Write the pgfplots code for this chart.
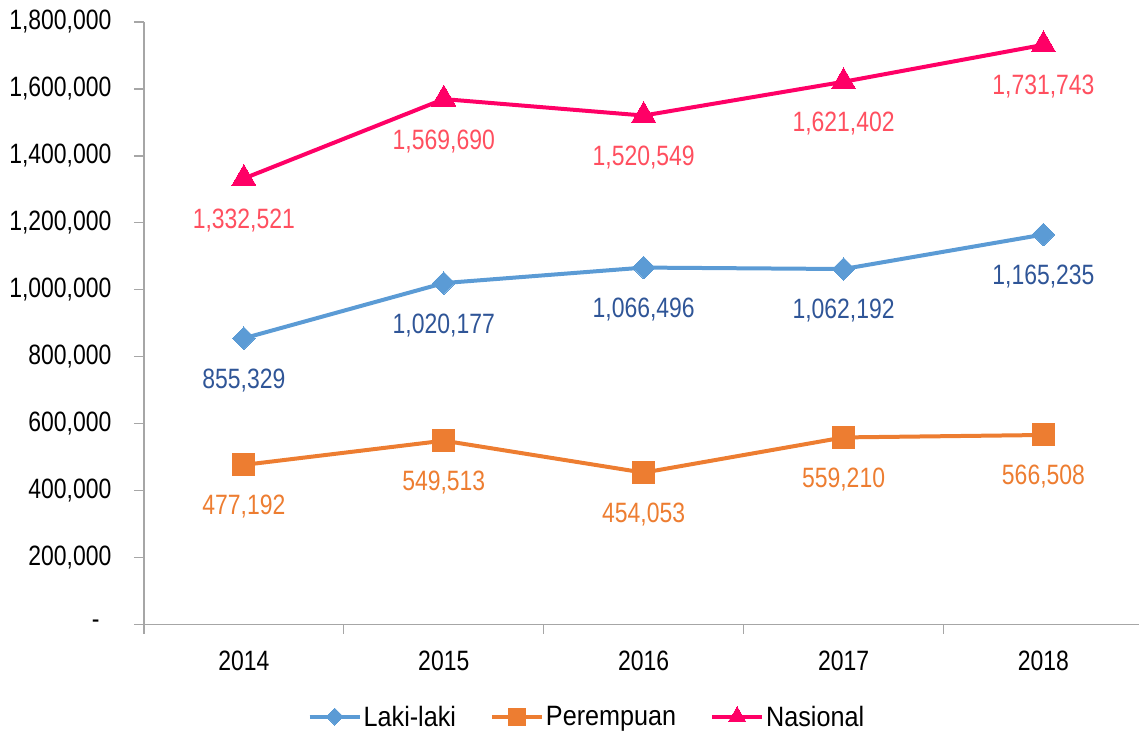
\documentclass[border=0pt]{standalone}
\usepackage{fontspec}
\setmainfont{Liberation Sans}[FakeStretch=0.82]
\newfontfamily\legfont{Liberation Sans}[FakeStretch=0.9]
\usepackage{pgfplots}
\pgfplotsset{compat=1.18}
\definecolor{lakiline}{HTML}{5B9BD5}
\definecolor{lakitext}{HTML}{2F5597}
\definecolor{perline}{HTML}{ED7D31}
\definecolor{nasline}{HTML}{FF0066}
\definecolor{nastext}{HTML}{FF4F5F}
\definecolor{axgray}{HTML}{A6A6A6}
\pgfplotsset{
  leglaki/.style={legend image code/.code={\draw[mark repeat=2,mark phase=2,##1,mark size=6pt] plot coordinates {(0pt,0pt)(25pt,0pt)(50pt,0pt)};}},
  legper/.style={legend image code/.code={\draw[mark repeat=2,mark phase=2,##1,mark size=8.5pt] plot coordinates {(0pt,0pt)(25pt,0pt)(50pt,0pt)};}},
  legnas/.style={legend image code/.code={\draw[mark repeat=2,mark phase=2,##1,mark size=10pt] plot coordinates {(0pt,0pt)(25pt,0pt)(50pt,0pt)};}},
}
\begin{document}
\begin{tikzpicture}
\begin{axis}[
  scale only axis, width=996pt, height=603pt,
  xmin=-0.5, xmax=4.48, ymin=0, ymax=1800000,
  axis x line*=bottom, axis y line*=left,
  axis line style={draw=axgray, line width=1.2pt, -},
  xtick={0,1,2,3,4}, xticklabels={2014,2015,2016,2017,2018},
  major x tick style={draw=none},
  minor xtick={-0.5,0.5,1.5,2.5,3.5},
  minor x tick style={draw=axgray, line width=1.2pt},
  minor tick length=9pt,
  ytick={0,200000,400000,600000,800000,1000000,1200000,1400000,1600000,1800000},
  yticklabels={-\rule{12pt}{0pt},{200,000},{400,000},{600,000},{800,000},{1,000,000},{1,200,000},{1,400,000},{1,600,000},{1,800,000}},
  major y tick style={draw=axgray, line width=1.2pt},
  major tick length=10pt,
  tick align=outside,
  scaled y ticks=false,
  ticklabel style={font=\fontsize{28}{32}\selectfont},
  yticklabel style={xshift=-19pt},
  xticklabel style={yshift=-13pt},
  clip=false,
  nodes near coords,
  point meta=y,
  /pgf/number format/.cd, fixed, precision=0, 1000 sep={,}, assume math mode=true,
  /pgfplots/.cd,
  every node near coord/.append style={anchor=center, yshift=-42pt, font=\fontsize{28}{32}\selectfont},
  legend style={at={(0.445,-0.1526)}, anchor=center, draw=none, legend columns=3,
    font=\legfont\fontsize{28}{32}\selectfont,
    /tikz/every even column/.append style={column sep=32pt}},
  legend cell align=left,
]
\addplot[color=lakiline, line width=4pt, mark=square*, mark size=8pt, mark options={rotate=45, line width=0pt},
  nodes near coords style={text=lakitext}, leglaki]
  coordinates {(0,855329) (1,1020177) (2,1066496) (3,1062192) (4,1165235)};
\addlegendentry{Laki-laki}
\addplot[color=perline, line width=4pt, mark=square*, mark size=11pt, mark options={line width=0pt},
  nodes near coords style={text=perline}, legper]
  coordinates {(0,477192) (1,549513) (2,454053) (3,559210) (4,566508)};
\addlegendentry{Perempuan}
\addplot[color=nasline, line width=4pt, mark=triangle*, mark size=14pt, mark options={line width=0pt},
  nodes near coords style={text=nastext}, legnas]
  coordinates {(0,1332521) (1,1569690) (2,1520549) (3,1621402) (4,1731743)};
\addlegendentry{Nasional}
\end{axis}
\path (-144pt,-106pt) rectangle (996pt,625pt);
\end{tikzpicture}
\end{document}
